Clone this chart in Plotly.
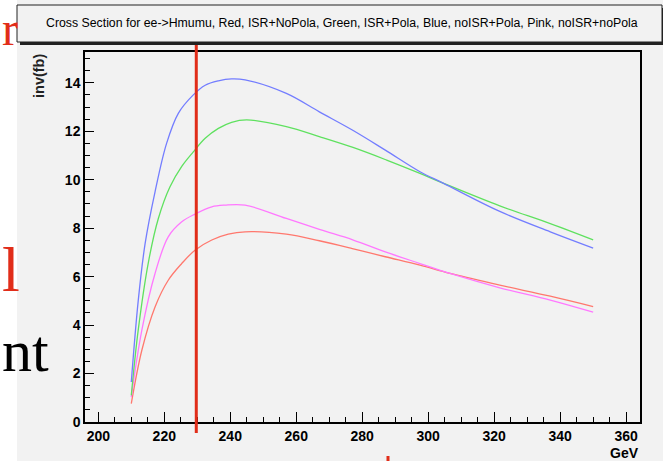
import plotly.graph_objects as go

# ---- data ----
blue_x = [210, 212.1, 214.2, 217.2, 220.7, 224.3, 228.8, 232.4, 236.4, 240.4, 244.5, 257, 267, 277, 287, 297.5, 304.5, 321.7, 337, 350]
blue_y = [1.65, 5.0, 7.37, 9.5, 11.5, 12.75, 13.5, 13.9, 14.08, 14.16, 14.12, 13.56, 12.8, 12.05, 11.22, 10.33, 9.86, 8.69, 7.85, 7.18]

green_x = [210, 212.1, 215.2, 218.2, 221.7, 225.3, 228.8, 232.4, 236.4, 240.4, 245, 257, 267.2, 277.2, 287.4, 297.5, 304.5, 321.7, 337, 350]
green_y = [1.1, 3.79, 6.6, 8.4, 9.7, 10.55, 11.15, 11.71, 12.12, 12.37, 12.47, 12.19, 11.77, 11.33, 10.81, 10.26, 9.86, 8.92, 8.19, 7.52]

pink_x = [210, 213.2, 217.2, 221.2, 225.3, 229.3, 234.4, 238.4, 244.5, 257, 267, 277.3, 287, 297.5, 306.6, 321.7, 337, 350]
pink_y = [1.03, 3.79, 6.13, 7.64, 8.26, 8.58, 8.88, 8.95, 8.95, 8.40, 7.95, 7.51, 7.02, 6.54, 6.13, 5.54, 5.03, 4.53]

red_x = [210, 213.2, 217.2, 221.2, 225.3, 229.3, 234.4, 239.4, 244.5, 257, 267, 277, 287, 297.5, 306.6, 321.7, 337, 350]
red_y = [0.76, 2.96, 4.75, 5.85, 6.54, 7.09, 7.51, 7.75, 7.85, 7.75, 7.48, 7.16, 6.82, 6.47, 6.13, 5.65, 5.19, 4.76]

series = [
    ("ISR+NoPola", red_x, red_y, "rgb(255,120,110)"),
    ("noISR+noPola", pink_x, pink_y, "rgb(255,120,255)"),
    ("ISR+Pola", green_x, green_y, "rgb(95,225,95)"),
    ("noISR+Pola", blue_x, blue_y, "rgb(115,125,255)"),
]

x_ticks = [200, 220, 240, 260, 280, 300, 320, 340, 360]
y_ticks = [0, 2, 4, 6, 8, 10, 12, 14]
marker_x = 229.7
title_text = "Cross Section for ee->Hmumu, Red, ISR+NoPola, Green, ISR+Pola, Blue, noISR+Pola, Pink, noISR+noPola"

# ---- layout geometry (pixels) ----
W, H = 663, 461
L, R, T, B = 85, 640, 52, 422
PW, PH = R - L, B - T


def px(xp):
    return (xp - L) / PW


def py(yp):
    return (B - yp) / PH


fig = go.Figure()
for name, xs, ys, col in series:
    fig.add_trace(go.Scatter(x=xs, y=ys, mode="lines", name=name,
                             line=dict(color=col, width=1.3, shape="spline", smoothing=1.0),
                             showlegend=False, hoverinfo="skip"))

tickfont = dict(family="Liberation Sans, Arial, sans-serif", size=14, color="black", weight="bold")

fig.update_layout(
    width=W, height=H,
    margin=dict(l=L, r=W - R, t=T, b=H - B, pad=0),
    paper_bgcolor="#f2f2f2", plot_bgcolor="#f2f2f2",
    xaxis=dict(range=[195.97, 364.2], tickvals=x_ticks, ticks="inside", ticklen=10, tickwidth=1,
               tickcolor="black", showline=True, linecolor="black", linewidth=1.5, mirror=True,
               showgrid=False, zeroline=False, tickfont=tickfont,
               minor=dict(dtick=5, tick0=200, ticks="inside", ticklen=5, tickcolor="black", showgrid=False)),
    yaxis=dict(range=[0, 15.27], tickvals=y_ticks, ticks="inside", ticklen=9, tickwidth=1,
               tickcolor="black", showline=True, linecolor="black", linewidth=1.5, mirror=True,
               showgrid=False, zeroline=False, tickfont=tickfont,
               minor=dict(dtick=0.5, tick0=0, ticks="inside", ticklen=5, tickcolor="black", showgrid=False)),
)

shapes = []
# white slide strip on the left
shapes.append(dict(type="rect", xref="paper", yref="paper", x0=px(-5), x1=px(17), y0=py(-5), y1=py(466),
                   fillcolor="white", line=dict(width=0), layer="above"))
# red vertical marker line
shapes.append(dict(type="line", xref="x", yref="paper", x0=marker_x, x1=marker_x, y0=py(433), y1=py(40),
                   line=dict(color="rgb(225,45,25)", width=3), layer="above"))
# small red tick at the bottom
shapes.append(dict(type="rect", xref="paper", yref="paper", x0=px(386.5), x1=px(389.5), y0=py(461), y1=py(456),
                   fillcolor="rgb(225,45,25)", line=dict(width=0), layer="above"))
# title box shadow and box
shapes.append(dict(type="rect", xref="paper", yref="paper", x0=px(20), x1=px(666), y0=py(45), y1=py(8),
                   fillcolor="#222222", line=dict(width=0), layer="above"))
shapes.append(dict(type="rect", xref="paper", yref="paper", x0=px(17), x1=px(662), y0=py(42), y1=py(5),
                   fillcolor="#f2f2f2", line=dict(color="#222222", width=1), layer="above"))
fig.update_layout(shapes=shapes)

ann = []
ann.append(dict(text=title_text, xref="paper", yref="paper", x=px(342), y=py(23), xanchor="center",
                yanchor="middle", showarrow=False,
                font=dict(family="Liberation Sans, Arial, sans-serif", size=12.3, color="black")))
ann.append(dict(text="inv(fb)", xref="paper", yref="paper", x=px(39), y=py(52), xanchor="center",
                yanchor="top", textangle=-90, showarrow=False,
                font=dict(family="Liberation Sans, Arial, sans-serif", size=14.5, color="#222", weight="bold")))
ann.append(dict(text="GeV", xref="paper", yref="paper", x=px(641), y=py(453), xanchor="right",
                yanchor="middle", showarrow=False,
                font=dict(family="Liberation Sans, Arial, sans-serif", size=14, color="black", weight="bold")))
# slide text fragments behind the canvas
serif = "Liberation Serif, Times New Roman, serif"
ann.append(dict(text="r", xref="paper", yref="paper", x=px(0), y=py(29), xanchor="left", yanchor="middle",
                showarrow=False, font=dict(family=serif, size=48, color="rgb(225,45,25)")))
ann.append(dict(text="l", xref="paper", yref="paper", x=px(0), y=py(269), xanchor="left", yanchor="middle",
                showarrow=False, font=dict(family=serif, size=64, color="rgb(225,45,25)")))
ann.append(dict(text="nt", xref="paper", yref="paper", x=px(0), y=py(351), xanchor="left", yanchor="middle",
                showarrow=False, font=dict(family=serif, size=60, color="black")))
fig.update_layout(annotations=ann)

fig.write_html("out.html")
